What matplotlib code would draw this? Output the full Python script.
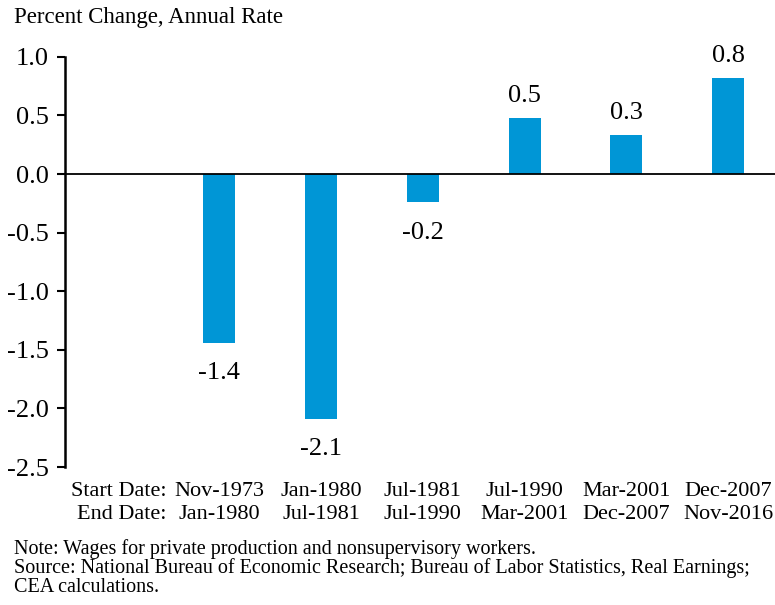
import matplotlib.pyplot as plt

# data
start_dates = ["Nov-1973", "Jan-1980", "Jul-1981", "Jul-1990", "Mar-2001", "Dec-2007"]
end_dates = ["Jan-1980", "Jul-1981", "Jul-1990", "Mar-2001", "Dec-2007", "Nov-2016"]
pct_change = [-1.44, -2.09, -0.24, 0.48, 0.33, 0.82]
value_labels = ["-1.4", "-2.1", "-0.2", "0.5", "0.3", "0.8"]
y_ticks = [1.0, 0.5, 0.0, -0.5, -1.0, -1.5, -2.0, -2.5]
note_lines = [
    "Note: Wages for private production and nonsupervisory workers.",
    "Source: National Bureau of Economic Research; Bureau of Labor Statistics, Real Earnings;",
    "CEA calculations.",
]

BAR_COLOR = "#0096D6"
plt.rcParams['font.family'] = ['Liberation Serif', 'DejaVu Serif']

fig = plt.figure(figsize=(7.75, 6.05), dpi=100)
ax = fig.add_axes([0.084, 0.228, 0.916, 0.678])

x = list(range(len(pct_change)))
ax.bar(x, pct_change, width=0.315, color=BAR_COLOR, zorder=2)
ax.axhline(0, color="black", linewidth=1.3, zorder=3)

for xi, v, lab in zip(x, pct_change, value_labels):
    if v >= 0:
        ax.annotate(lab, (xi, v), xytext=(0, 8), textcoords="offset points",
                    ha="center", va="bottom", fontsize=19)
    else:
        ax.annotate(lab, (xi, v), xytext=(0, -14), textcoords="offset points",
                    ha="center", va="top", fontsize=19)

ax.set_xlim(-1.513, 5.46)
ax.set_ylim(-2.5, 1.0)
ax.set_yticks(y_ticks)
ax.set_yticklabels([f"{t:.1f}" for t in y_ticks])
ax.tick_params(axis="y", labelsize=19, width=1.5, length=6, direction="out", pad=6)

# header column ("Start Date:/End Date:") sits as an extra tick left of the bars
ax.set_xticks([-0.52] + x)
ax.set_xticklabels(["Start Date:\nEnd Date:"] +
                   [f"{s}\n{e}" for s, e in zip(start_dates, end_dates)],
                   fontsize=16, linespacing=1.24)
hdr = ax.get_xticklabels()[0]
hdr.set_horizontalalignment("right")
hdr.set_multialignment("right")
ax.tick_params(axis="x", length=0, pad=11)

for side in ["top", "right", "bottom"]:
    ax.spines[side].set_visible(False)
ax.spines["left"].set_linewidth(1.8)

fig.text(14 / 775, 1 - 18 / 605, "Percent Change, Annual Rate", ha="left", va="center", fontsize=16.5)

for i, line in enumerate(note_lines):
    fig.text(14 / 775, 1 - (549 + 19 * i) / 605, line, ha="left", va="center", fontsize=14.5)

fig.savefig("out.png", dpi=100)
